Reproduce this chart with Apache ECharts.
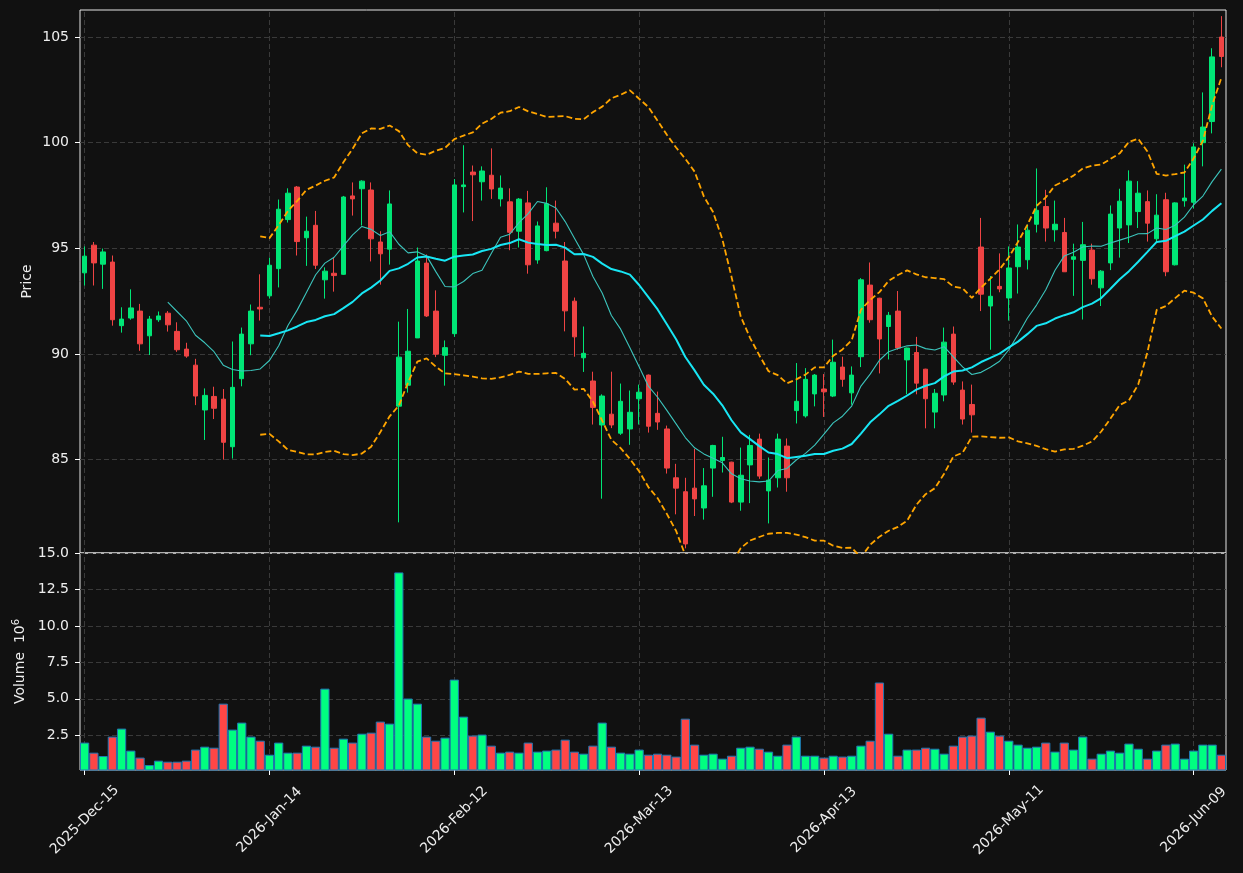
<!DOCTYPE html>
<html>
<head>
<meta charset="utf-8">
<script src="https://cdn.jsdelivr.net/npm/echarts@6/dist/echarts.min.js"></script>
<style>
  html, body { margin: 0; padding: 0; background: #111111; }
  #kline { width: 1243px; height: 873px; }
</style>
</head>
<body>
<div id="kline"></div>
<script>
// trading calendar: weekdays from startDate, exchange holidays skipped
const startDate = "2025-12-15";
const barCount = 124;
const holidays = ["2025-12-25", "2026-01-01", "2026-01-19", "2026-02-16", "2026-04-03", "2026-05-25"];
const monthNames = ["Jan", "Feb", "Mar", "Apr", "May", "Jun", "Jul", "Aug", "Sep", "Oct", "Nov", "Dec"];

// OHLC
const opens = [93.84, 95.15, 94.25, 94.35, 91.34, 91.70, 92.03, 90.86, 91.62, 91.93,
  91.07, 90.23, 89.47, 87.35, 87.99, 87.86, 85.61, 88.83, 90.48, 92.21,
  92.75, 94.04, 96.36, 97.90, 95.50, 96.09, 93.51, 93.82, 93.77, 97.48,
  97.82, 97.76, 95.30, 94.96, 87.53, 88.52, 90.76, 94.30, 92.03, 89.94,
  90.96, 97.92, 98.61, 98.15, 98.46, 97.34, 97.20, 95.81, 97.15, 94.45,
  94.89, 96.19, 94.40, 92.50, 89.82, 88.72, 86.64, 87.15, 86.25, 86.45,
  87.88, 89.00, 87.19, 86.45, 84.14, 83.48, 83.65, 82.71, 84.60, 84.96,
  84.88, 82.99, 84.75, 85.97, 83.52, 84.14, 85.64, 87.32, 87.07, 88.11,
  88.34, 88.01, 89.38, 88.16, 89.87, 93.26, 92.64, 91.30, 92.03, 89.72,
  90.07, 89.28, 87.25, 88.06, 90.94, 88.29, 87.61, 95.06, 92.27, 93.20,
  92.65, 94.13, 94.46, 96.14, 96.98, 95.88, 95.75, 94.48, 94.43, 94.92,
  93.13, 94.31, 95.96, 96.11, 96.74, 97.21, 95.45, 97.30, 94.22, 97.25,
  97.18, 100.00, 101.00, 105.00];
const highs = [95.09, 95.30, 94.99, 94.66, 92.21, 93.06, 92.37, 91.80, 92.01, 92.03,
  91.50, 90.53, 89.77, 88.37, 88.45, 88.34, 90.59, 91.25, 92.34, 93.77,
  94.56, 97.31, 97.84, 97.95, 96.50, 96.77, 94.10, 94.59, 97.48, 98.12,
  98.22, 98.12, 95.81, 97.74, 91.53, 92.13, 95.04, 94.71, 93.01, 90.64,
  98.28, 99.88, 98.92, 98.88, 99.73, 98.45, 97.84, 97.38, 97.72, 96.27,
  97.89, 97.26, 95.30, 92.67, 91.30, 89.16, 88.09, 89.16, 88.60, 88.27,
  88.55, 89.03, 88.22, 86.61, 84.80, 84.14, 85.51, 84.60, 85.70, 86.08,
  84.90, 85.57, 86.17, 86.23, 85.10, 86.23, 86.00, 89.57, 89.33, 89.05,
  89.05, 90.68, 89.87, 89.41, 93.59, 94.33, 92.66, 91.99, 92.98, 90.30,
  90.81, 89.30, 88.34, 91.25, 91.30, 88.70, 88.55, 96.44, 93.69, 94.76,
  95.09, 96.13, 96.13, 98.78, 97.77, 97.26, 96.44, 95.22, 96.25, 95.22,
  93.97, 97.03, 97.82, 98.69, 98.18, 97.74, 97.56, 97.63, 97.18, 98.96,
  99.97, 102.38, 104.47, 105.99];
const lows = [93.24, 93.24, 93.08, 91.34, 91.01, 91.62, 90.15, 89.95, 91.52, 91.06,
  90.10, 89.82, 87.58, 85.93, 86.92, 85.00, 85.05, 88.47, 89.94, 91.58,
  92.62, 93.15, 96.22, 94.66, 94.17, 94.02, 92.62, 92.95, 93.74, 96.55,
  96.08, 94.38, 93.28, 94.23, 82.03, 88.17, 90.76, 91.75, 89.85, 88.50,
  90.81, 96.70, 96.29, 97.26, 97.34, 96.98, 94.91, 95.04, 93.80, 94.27,
  94.86, 95.47, 91.07, 89.87, 89.15, 86.66, 83.15, 86.49, 86.17, 85.70,
  86.66, 86.28, 86.41, 84.34, 82.41, 80.80, 82.33, 82.16, 83.24, 84.39,
  82.94, 82.58, 82.94, 84.09, 81.98, 83.68, 83.48, 86.71, 86.99, 87.52,
  87.02, 87.96, 88.45, 87.60, 89.38, 91.48, 89.08, 89.74, 90.20, 88.09,
  88.09, 86.48, 86.48, 87.76, 88.54, 86.66, 86.28, 92.03, 90.20, 92.92,
  91.58, 92.86, 94.00, 95.75, 95.32, 95.32, 93.89, 92.75, 91.63, 93.28,
  92.27, 93.97, 94.56, 95.25, 95.96, 95.32, 95.27, 93.68, 94.19, 96.97,
  96.89, 98.88, 100.44, 103.57];
const closes = [94.63, 94.31, 94.83, 91.62, 91.65, 92.18, 90.48, 91.65, 91.80, 91.38,
  90.20, 89.90, 88.01, 88.04, 87.43, 85.82, 88.42, 90.94, 92.03, 92.13,
  94.20, 96.85, 97.61, 95.32, 95.81, 94.20, 93.92, 93.71, 97.43, 97.34,
  98.18, 95.45, 94.74, 97.10, 89.85, 90.13, 94.40, 91.80, 89.99, 90.30,
  98.00, 98.00, 98.48, 98.66, 97.81, 97.85, 95.76, 97.33, 94.22, 96.06,
  97.11, 95.81, 92.04, 90.81, 90.03, 87.47, 88.01, 86.64, 87.76, 87.24,
  88.19, 86.58, 86.78, 84.60, 83.65, 81.01, 83.14, 83.76, 85.67, 85.10,
  82.99, 84.26, 85.67, 84.22, 84.03, 85.97, 84.14, 87.76, 88.80, 89.00,
  88.21, 89.61, 88.80, 89.00, 93.51, 91.62, 90.71, 91.83, 90.28, 90.28,
  88.62, 87.88, 88.14, 90.56, 88.67, 86.92, 87.12, 92.83, 92.73, 93.08,
  94.07, 95.06, 95.86, 96.80, 95.96, 96.14, 93.89, 94.60, 95.17, 93.56,
  93.92, 96.62, 97.23, 98.18, 97.61, 96.19, 96.57, 93.89, 97.15, 97.38,
  99.80, 100.74, 104.06, 104.08];
// volume in millions
const volumes = [2.00, 1.31, 1.08, 2.41, 2.96, 1.45, 0.97, 0.46, 0.76, 0.69,
  0.69, 0.76, 1.52, 1.72, 1.65, 4.67, 2.89, 3.37, 2.41, 2.13,
  1.17, 2.00, 1.31, 1.31, 1.79, 1.72, 5.70, 1.65, 2.27, 2.00,
  2.61, 2.68, 3.44, 3.30, 13.67, 5.02, 4.67, 2.41, 2.13, 2.34,
  6.32, 3.78, 2.48, 2.55, 1.79, 1.31, 1.38, 1.31, 2.00, 1.38,
  1.45, 1.52, 2.20, 1.38, 1.24, 1.79, 3.37, 1.72, 1.31, 1.24,
  1.52, 1.17, 1.24, 1.17, 1.04, 3.64, 1.86, 1.17, 1.24, 0.90,
  1.10, 1.65, 1.72, 1.58, 1.38, 1.10, 1.86, 2.41, 1.10, 1.10,
  0.97, 1.10, 1.04, 1.10, 1.79, 2.13, 6.12, 2.61, 1.10, 1.52,
  1.52, 1.65, 1.58, 1.24, 1.79, 2.41, 2.48, 3.71, 2.75, 2.48,
  2.13, 1.86, 1.65, 1.72, 2.00, 1.38, 2.00, 1.52, 2.41, 0.90,
  1.24, 1.45, 1.31, 1.93, 1.58, 0.90, 1.45, 1.86, 1.93, 0.90,
  1.45, 1.86, 1.86, 1.17];

const priceTicks = [85, 90, 95, 100, 105];
const volumeTicks = [2.5, 5, 7.5, 10, 12.5, 15];
const dateTickIdx = [0, 20, 40, 60, 80, 100, 120];

function tradingDays(start, count, skip) {
  let out = [];
  let d = new Date(start + "T00:00:00Z");
  while (out.length < count) {
    let dow = d.getUTCDay();
    let iso = d.toISOString().slice(0, 10);
    if (dow !== 0 && dow !== 6 && skip.indexOf(iso) < 0) {
      out.push(d.getUTCFullYear() + "-" + monthNames[d.getUTCMonth()] + "-" +
        String(d.getUTCDate()).padStart(2, "0"));
    }
    d.setUTCDate(d.getUTCDate() + 1);
  }
  return out;
}

// rolling mean / population std of closes
function rolling(arr, n, fn) {
  return arr.map((v, i) => {
    if (i < n - 1) return "-";
    let win = arr.slice(i - n + 1, i + 1);
    return fn(win);
  });
}
const mean = w => w.reduce((a, b) => a + b, 0) / w.length;
const std = w => {
  let m = mean(w);
  return Math.sqrt(w.reduce((a, b) => a + (b - m) * (b - m), 0) / w.length);
};

const dates = tradingDays(startDate, barCount, holidays);
const ma10 = rolling(closes, 10, mean);
const ma20 = rolling(closes, 20, mean);
const bbUpper = rolling(closes, 20, w => mean(w) + 2 * std(w));
const bbLower = rolling(closes, 20, w => mean(w) - 2 * std(w));

const upColor = "#00e676";
const downColor = "#ef4444";
const volUp = "#00ff80";
const volDown = "#ff4646";
const textColor = "#eeeeee";
const gridColor = "#3a3a3a";
const font = "DejaVu Sans";

// vertical dashed grid at the date ticks, kept behind the marks
function vGridSeries(axisIdx) {
  return {
    name: "vgrid" + axisIdx,
    type: "line",
    xAxisIndex: axisIdx,
    yAxisIndex: axisIdx,
    z: 0,
    silent: true,
    symbol: "none",
    data: dates.map(() => "-"),
    markLine: {
      z: 0,
      silent: true,
      symbol: ["none", "none"],
      label: { show: false },
      emphasis: { disabled: true },
      lineStyle: { color: gridColor, type: [5, 3], width: 1 },
      data: dateTickIdx.map(i => ({ xAxis: dates[i] }))
    }
  };
}

function yAxisBase(gridIndex, min, max, ticks, name, gap, fmt) {
  return {
    type: "value",
    gridIndex: gridIndex,
    min: min,
    max: max,
    position: "left",
    name: name,
    nameLocation: "middle",
    nameGap: gap,
    nameRotate: 90,
    nameMoveOverlap: false,
    nameTextStyle: {
      color: textColor, fontSize: 14, fontFamily: font,
      rich: {
        sup: { color: textColor, fontSize: 10, fontFamily: font, padding: [0, 0, 8, 0] }
      }
    },
    axisLine: { show: false },
    axisTick: { show: true, length: 5, customValues: ticks, lineStyle: { color: "#ffffff" } },
    axisLabel: { color: textColor, fontSize: 14, fontFamily: font, margin: 11, customValues: ticks, formatter: fmt },
    splitLine: { show: true, lineStyle: { color: gridColor, type: [5, 3], width: 1 } }
  };
}

let chart = echarts.init(document.getElementById("kline"));
let option = {
  backgroundColor: "#111111",
  animation: false,
  grid: [
    { left: 80, right: 17, top: 10, height: 543, show: true, borderColor: "#e6e6e6", borderWidth: 1 },
    { left: 80, right: 17, top: 553, height: 217, show: true, borderColor: "#e6e6e6", borderWidth: 1 }
  ],
  xAxis: [
    {
      type: "category", gridIndex: 0, data: dates, boundaryGap: true,
      axisLine: { show: false }, axisTick: { show: false }, axisLabel: { show: false },
      splitLine: { show: false }
    },
    {
      type: "category", gridIndex: 1, data: dates, boundaryGap: true,
      axisLine: { show: false },
      axisTick: { show: true, alignWithLabel: true, interval: 19, length: 5, lineStyle: { color: "#ffffff" } },
      axisLabel: {
        show: true, interval: 19, rotate: 45, align: "center", verticalAlign: "middle",
        margin: 50, color: textColor, fontSize: 14, fontFamily: font
      },
      splitLine: { show: false }
    }
  ],
  yAxis: [
    yAxisBase(0, 80.58, 106.28, priceTicks, "Price", 46, v => String(v)),
    yAxisBase(1, 0.12, 15.0, volumeTicks, "Volume  10{sup|6}", 51, v => v.toFixed(1))
  ],
  series: [
    vGridSeries(0),
    vGridSeries(1),
    {
      name: "candles",
      type: "candlestick",
      xAxisIndex: 0,
      yAxisIndex: 0,
      z: 3,
      barWidth: 5,
      data: opens.map((o, i) => [o, closes[i], lows[i], highs[i]]),
      itemStyle: {
        color: upColor, color0: downColor,
        borderColor: upColor, borderColor0: downColor, borderWidth: 1
      }
    },
    {
      name: "MA10", type: "line", xAxisIndex: 0, yAxisIndex: 0, data: ma10, z: 4,
      symbol: "none", lineStyle: { color: "#3cc4bc", width: 1.1 }
    },
    {
      name: "MA20", type: "line", xAxisIndex: 0, yAxisIndex: 0, data: ma20, z: 4,
      symbol: "none", lineStyle: { color: "#18e6f4", width: 2 }
    },
    {
      name: "BB upper", type: "line", xAxisIndex: 0, yAxisIndex: 0, data: bbUpper, z: 4,
      symbol: "none", lineStyle: { color: "#ffa500", width: 1.8, type: [6, 3] }
    },
    {
      name: "BB lower", type: "line", xAxisIndex: 0, yAxisIndex: 0, data: bbLower, z: 4,
      symbol: "none", lineStyle: { color: "#ffa500", width: 1.8, type: [6, 3] }
    },
    {
      name: "Volume",
      type: "bar",
      xAxisIndex: 1,
      yAxisIndex: 1,
      z: 3,
      barWidth: "100%",
      data: volumes.map((v, i) => ({
        value: v,
        itemStyle: { color: closes[i] >= opens[i] ? volUp : volDown }
      })),
      itemStyle: { borderColor: "#1f77b4", borderWidth: 1 }
    }
  ]
};
chart.setOption(option);
</script>
</body>
</html>
